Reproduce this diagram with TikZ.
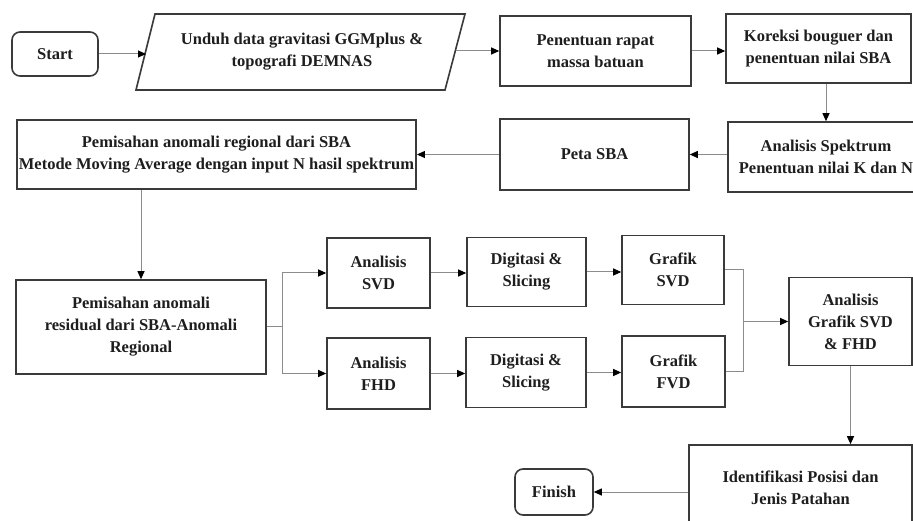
\documentclass[tikz,border=0pt]{standalone}
\usepackage{fontspec}
\setmainfont{Liberation Serif}
\usetikzlibrary{arrows.meta}
\definecolor{boxc}{HTML}{3A3A3A}
\definecolor{linec}{HTML}{8C8C8C}
\definecolor{txtc}{HTML}{1E1E1E}
\tikzset{
  box/.style={draw=boxc, line width=1.6pt, fill=white, align=center, inner sep=2pt,
    text=txtc, font=\fontsize{16.5}{22}\selectfont\bfseries},
  roundbox/.style={box, rounded corners=8pt},
  conn/.style={draw=linec, line width=1pt},
  arr/.style={conn, -{Triangle[length=8pt,width=7pt,color=black]}},
}
\begin{document}
\begin{tikzpicture}[x=1pt,y=-1pt]
\clip (0,0) rectangle (913,521);
\fill[white] (0,0) rectangle (913,521);

% nodes
\node[roundbox, minimum width=86, minimum height=44] (start) at (55,54) {Start};
\draw[draw=boxc, line width=1.6pt, fill=white] (136,90) -- (155,14) -- (465,14) -- (445,90) -- cycle;
\node[align=center, text=txtc, font=\fontsize{16.5}{22}\selectfont\bfseries] (unduh) at (302,52) {Unduh data gravitasi GGMplus \&\\ topografi DEMNAS};
\coordinate (uin) at (146,54);
\coordinate (uout) at (456,51);
\node[box, minimum width=191, minimum height=70] (penentuan) at (595.5,51) {Penentuan rapat\\ massa batuan};
\node[box, minimum width=185, minimum height=69] (koreksi) at (818.5,48.5) {Koreksi bouguer dan\\ penentuan nilai SBA};
\node[box, minimum width=196, minimum height=70] (spektrum) at (826,157) {Analisis Spektrum\\ Penentuan nilai K dan N};
\node[box, minimum width=189, minimum height=71] (peta) at (594.5,154.5) {Peta SBA};
\node[box, minimum width=397, minimum height=69] (regional) at (216.5,154.5) {Pemisahan anomali regional dari SBA\\ Metode Moving Average dengan input N hasil spektrum};
\node[box, minimum width=250, minimum height=94] (residual) at (141,327) {Pemisahan anomali\\ residual dari SBA-Anomali\\ Regional};
\node[box, minimum width=103, minimum height=70] (asvd) at (378.5,273) {Analisis\\ SVD};
\node[box, minimum width=103, minimum height=71] (afhd) at (378.5,373.5) {Analisis\\ FHD};
\node[box, minimum width=119, minimum height=69] (dsvd) at (526.5,272) {Digitasi \&\\ Slicing};
\node[box, minimum width=120, minimum height=70] (dfhd) at (526,372.5) {Digitasi \&\\ Slicing};
\node[box, minimum width=102, minimum height=69] (gsvd) at (673,270) {Grafik\\ SVD};
\node[box, minimum width=103, minimum height=71] (gfvd) at (673.5,371.5) {Grafik\\ FVD};
\node[box, minimum width=123, minimum height=88] (agraf) at (850.5,321.5) {Analisis\\ Grafik SVD\\ \& FHD};
\node[box, minimum width=223, minimum height=86] (ident) at (800.5,488) {Identifikasi Posisi dan\\ Jenis Patahan};
\node[roundbox, minimum width=78, minimum height=46] (finish) at (554,492) {Finish};
\coordinate (br) at (282,327);
\coordinate (mg) at (743,321.5);

% connectors
\draw[arr] (start.east) -- (uin);
\draw[arr] (uout) -- (uout -| penentuan.west);
\draw[arr] (penentuan.east) -- (penentuan.east -| koreksi.west);
\draw[arr] (koreksi.south -| spektrum.north) -- (spektrum.north);
\draw[arr] (spektrum.west |- peta.east) -- (peta.east);
\draw[arr] (peta.west) -- (peta.west -| regional.east);
\draw[arr] (regional.south -| residual.north) -- (residual.north);
\draw[conn] (residual.east) -- (br);
\draw[arr] (br) |- (asvd.west);
\draw[arr] (br) |- (afhd.west);
\draw[arr] (asvd.east) -- (asvd.east -| dsvd.west);
\draw[arr] (afhd.east) -- (afhd.east -| dfhd.west);
\draw[arr] (dsvd.east) -- (dsvd.east -| gsvd.west);
\draw[arr] (dfhd.east) -- (dfhd.east -| gfvd.west);
\draw[conn] (gsvd.east) -| (mg);
\draw[conn] (gfvd.east) -| (mg);
\draw[arr] (mg) -- (agraf.west);
\draw[arr] (agraf.south) -- (agraf.south |- ident.north);
\draw[arr] (ident.west |- finish.east) -- (finish.east);
\end{tikzpicture}
\end{document}
